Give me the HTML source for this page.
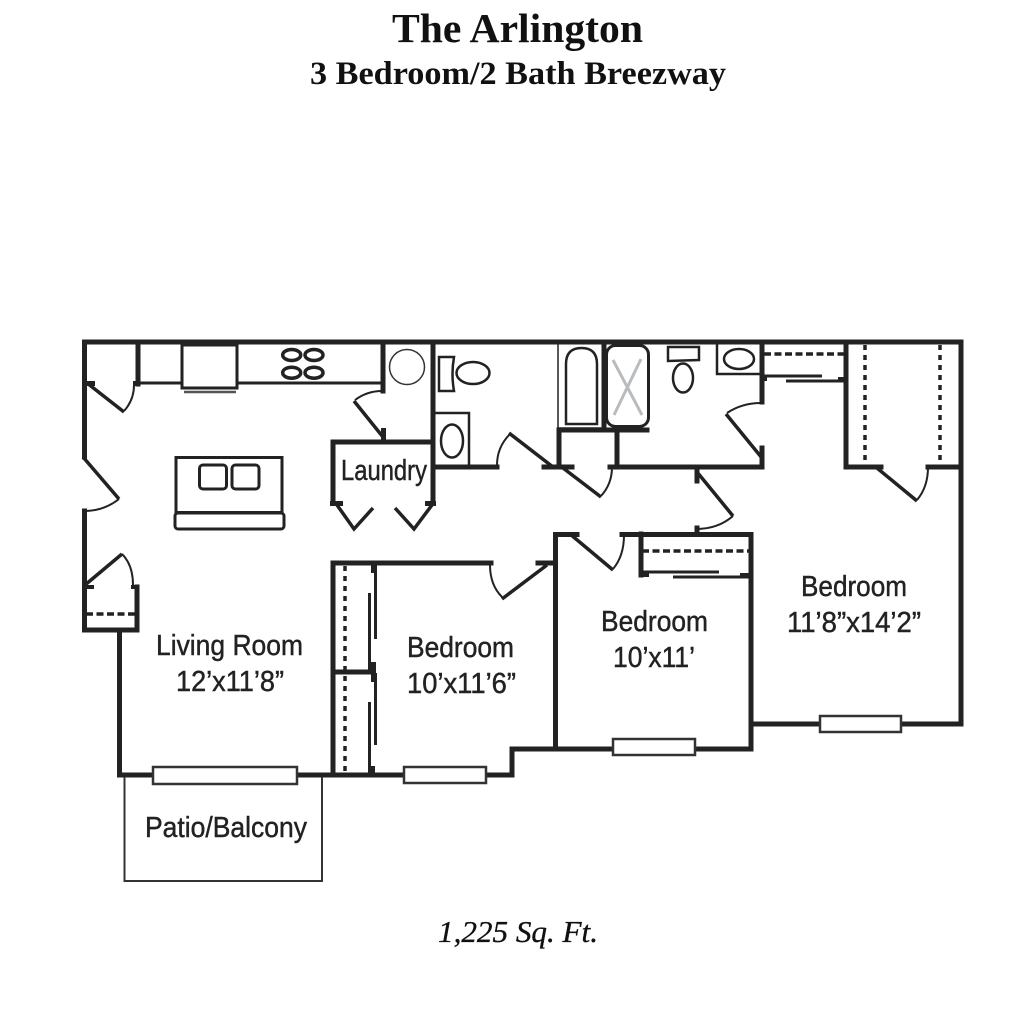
<!DOCTYPE html>
<html><head><meta charset="utf-8"><title>The Arlington</title>
<style>html,body{margin:0;padding:0;background:#fff}svg{display:block}
.l{font-family:"Liberation Sans",sans-serif;font-size:29px;fill:#222;stroke:#222;stroke-width:.45px}
.s{font-family:"Liberation Serif",serif;font-weight:bold;fill:#111}
</style></head><body>
<svg width="1024" height="1024" viewBox="0 0 1024 1024" xmlns="http://www.w3.org/2000/svg">
<rect width="1024" height="1024" fill="#fff"/>
<text class="s" x="392" y="42" font-size="41" textLength="251" lengthAdjust="spacingAndGlyphs">The Arlington</text>
<text class="s" x="310" y="84" font-size="33" textLength="416" lengthAdjust="spacingAndGlyphs">3 Bedroom/2 Bath Breezway</text>
<text x="438" y="942" font-family="Liberation Serif, serif" font-size="31" font-style="italic" fill="#111" stroke="#111" stroke-width=".35" textLength="160" lengthAdjust="spacingAndGlyphs">1,225 Sq. Ft.</text>

<!-- thick walls -->
<g fill="none" stroke="#222" stroke-width="5" stroke-linecap="square" stroke-linejoin="miter">
<path d="M84.5 457V342H961V724H753"/>
<path d="M84.5 511V630H137V587"/>
<path d="M119.500 630V775H152"/>
<path d="M297 775H404M486 775H512V749H613M695 749H751V534.500H622"/>
<path d="M555.500 749V534.500H577"/>
<path d="M333 775V563H491"/>
<path d="M555 563H538"/>
<path d="M138 344V384"/>
<path d="M383 344V391"/>
<path d="M433 344V503"/>
<path d="M333 503V442H433"/>
<path d="M435 467H497"/>
<path d="M544 467H572"/>
<path d="M559 467V430"/>
<path d="M559 430H647"/>
<path d="M604 344V430"/>
<path d="M617 430V467"/>
<path d="M610 467H762V448"/>
<path d="M762 344V402"/>
<path d="M846 344V467H881"/>
<path d="M928 467H961"/>
<path d="M641 534V575"/>
<path d="M697 470V481"/>
<path d="M697 528V533"/>
<path d="M333 672H371"/>
</g>
<!-- stubs -->
<g fill="#222">
<rect x="84" y="381" width="11" height="5"/><rect x="133" y="381" width="7" height="5"/>
<rect x="85" y="585" width="9" height="4"/><rect x="131" y="585" width="8" height="4"/>
<rect x="381" y="428" width="5" height="14"/>
<rect x="330" y="501" width="13" height="5"/><rect x="425" y="501" width="11" height="5"/>
<rect x="371" y="563" width="6" height="10"/><rect x="371" y="662" width="5" height="20"/><rect x="369" y="766" width="6" height="9"/>
<rect x="639" y="572" width="10" height="5"/><rect x="740" y="573" width="11" height="4"/>
<rect x="762" y="377" width="5" height="4"/><rect x="838" y="377" width="8" height="5"/>
</g>
<!-- thin lines: doors sliding -->
<g fill="none" stroke="#222" stroke-width="3.500">
<path d="M139 383H182M237 383H382" stroke-width="3"/>
<path d="M375.500 563V639M369.500 593V670M375.500 673V745M369.500 702V775" stroke-width="3"/>
<path d="M641 572H719M673 577H751" stroke-width="3"/>
<path d="M762 376H822M786 381H846" stroke-width="3"/>
<path d="M87 383L124 412M83 457L119 499M85 585L122 554M383 437L354 401M337 505L354 529L373 508M432 505L414 529L395 508"/>
<path d="M547 565L502 599M553 467L509 433M563 468L601 497M762 458L726 414M877 468L917 501M697 472L733 516M570 534L613 570"/>
</g>
<!-- door arcs -->
<g fill="none" stroke="#222" stroke-width="2">
<path d="M124 411Q134 400 134 385"/>
<path d="M119 499Q104 511 84 511"/>
<path d="M122 554Q133 565 133 585"/>
<path d="M355 400Q367 391 382 391"/>
<path d="M502 597Q490 585 490 565"/>
<path d="M510 434Q497 447 497 465"/>
<path d="M601 496Q612 484 612 467"/>
<path d="M727 413Q742 403 761 403"/>
<path d="M613 569Q624 556 624 535"/>
<path d="M917 500Q928 487 928 467"/>
<path d="M733 516Q718 529 696 529"/>
</g>
<!-- dashed -->
<g fill="none" stroke="#222" stroke-width="3.500">
<path d="M86 614H136" stroke-dasharray="7 3.500"/>
<path d="M345 566V775" stroke-dasharray="5 5"/>
<path d="M642 551H749" stroke-dasharray="7 3.500"/>
<path d="M764 354H844" stroke-dasharray="7 3.500"/>
<path d="M865 345V465" stroke-dasharray="5 5"/>
<path d="M940 345V465" stroke-dasharray="5 5"/>
</g>
<!-- windows and patio -->
<g fill="#fff" stroke="#333" stroke-width="2.500">
<path d="M124.500 777V881H322V777" fill="none" stroke-width="2"/>
<rect x="153" y="767" width="144" height="17"/>
<rect x="404" y="767" width="82" height="16"/>
<rect x="613" y="739" width="82" height="16"/>
<rect x="820" y="716" width="81" height="16"/>
</g>
<!-- kitchen -->
<g fill="none" stroke="#222">
<rect x="182" y="345" width="55" height="43" stroke-width="3" fill="#fff"/>
<path d="M184 392H236" stroke-width="2.500" stroke="#555"/>
<g stroke-width="3.500">
<ellipse cx="291.700" cy="355" rx="9" ry="5.500"/><ellipse cx="314" cy="355" rx="9" ry="5.500"/>
<ellipse cx="291.700" cy="372.700" rx="9" ry="5.500"/><ellipse cx="314" cy="372.700" rx="9" ry="5.500"/>
</g>
<circle cx="407" cy="367" r="17.500" stroke-width="1.500" stroke="#333"/>
<rect x="176" y="457.500" width="106" height="55" stroke-width="3"/>
<rect x="199.500" y="465" width="27" height="24" rx="3.500" stroke-width="3"/>
<rect x="232" y="465" width="27" height="24" rx="3.500" stroke-width="3"/>
<rect x="175" y="513" width="109" height="16" rx="3" stroke-width="3"/>
</g>
<!-- baths -->
<g fill="none" stroke="#222" stroke-width="2.500">
<path d="M439 357H454Q451 374 454 391H439Z"/>
<ellipse cx="473" cy="373" rx="16.500" ry="11"/>
<path d="M435 413H469V465"/>
<ellipse cx="452" cy="441" rx="11" ry="16.500"/>
<path d="M558 344V428H603" stroke-width="1.500"/>
<path d="M566 424V364Q566 348 581.500 348Q597 348 597 364V424Z"/>
<rect x="606.500" y="345.500" width="42" height="81" rx="9" stroke="#222" stroke-width="3"/>
<path d="M613 360L642 415M641 359L614 415" stroke="#b9bcbe" stroke-width="3"/>
<path d="M668 347H699V360L668 361Z"/>
<ellipse cx="683" cy="378" rx="10" ry="14.500"/>
<path d="M717 344V374H761"/>
<ellipse cx="739" cy="359" rx="15" ry="10"/>
</g>
<!-- labels -->
<text class="l" x="341" y="480" textLength="86" lengthAdjust="spacingAndGlyphs">Laundry</text>
<text class="l" x="156" y="655" textLength="147" lengthAdjust="spacingAndGlyphs">Living Room</text>
<text class="l" x="176" y="691" textLength="108" lengthAdjust="spacingAndGlyphs">12’x11’8”</text>
<text class="l" x="407" y="657" textLength="107" lengthAdjust="spacingAndGlyphs">Bedroom</text>
<text class="l" x="407" y="693" textLength="109" lengthAdjust="spacingAndGlyphs">10’x11’6”</text>
<text class="l" x="601" y="631" textLength="107" lengthAdjust="spacingAndGlyphs">Bedroom</text>
<text class="l" x="613" y="667" textLength="82" lengthAdjust="spacingAndGlyphs">10’x11’</text>
<text class="l" x="801" y="596" textLength="106" lengthAdjust="spacingAndGlyphs">Bedroom</text>
<text class="l" x="787" y="632" textLength="134" lengthAdjust="spacingAndGlyphs">11’8”x14’2”</text>
<text class="l" x="145" y="837" textLength="162" lengthAdjust="spacingAndGlyphs">Patio/Balcony</text>
</svg>
</body></html>
